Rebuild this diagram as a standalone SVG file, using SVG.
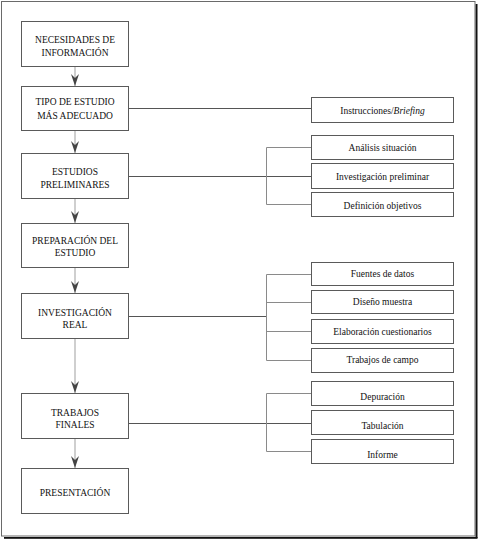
<svg xmlns="http://www.w3.org/2000/svg" width="478" height="539" viewBox="0 0 478 539">
<style>
.box{fill:#fff;stroke:#5a5a5a;stroke-width:1}
.t{font-family:"Liberation Serif","DejaVu Serif","Times New Roman",serif;font-size:9.5px;fill:#111;text-anchor:middle}
.flow{stroke:#cfcfcf;stroke-width:2;fill:none}
.conn{stroke:#555;stroke-width:1;fill:none}
.br{stroke:#8a8a8a;stroke-width:1;fill:none}
</style>
<defs>
<marker id="ah" viewBox="0 0 12 8" refX="12" refY="4" markerWidth="12" markerHeight="8" markerUnits="userSpaceOnUse" orient="auto">
<path d="M0,0 L12,4 L0,8 L4,4 Z" fill="#444"/>
</marker>
</defs>
<rect x="0" y="0" width="478" height="539" fill="#fff"/>
<rect x="475.5" y="4" width="2" height="534" fill="#111"/>
<rect x="4" y="537" width="473.5" height="1.8" fill="#111"/>
<rect x="1.5" y="1.5" width="473.5" height="534.5" fill="none" stroke="#6a6a6a" stroke-width="1"/>

<g id="connectors">
<path class="flow" d="M75,67 V86" marker-end="url(#ah)"/>
<path class="flow" d="M75,131 V153" marker-end="url(#ah)"/>
<path class="flow" d="M75,199 V223" marker-end="url(#ah)"/>
<path class="flow" d="M75,268 V293" marker-end="url(#ah)"/>
<path class="flow" d="M75,339 V393" marker-end="url(#ah)"/>
<path class="flow" d="M75,439 V468" marker-end="url(#ah)"/>
<path class="conn" d="M129,108.5 H311"/>
<path class="conn" d="M129,176.5 H311"/>
<path class="br" d="M311,147.5 H266.5 V204.5 H311"/>
<path class="conn" d="M129,316.5 H266.5"/>
<path class="br" d="M311,274.5 H266.5 V360.5 H311 M266.5,302.5 H311 M266.5,331.5 H311"/>
<path class="conn" d="M129,423.5 H311"/>
<path class="br" d="M311,393.5 H266.5 V451.5 H311"/>
</g>

<g id="n1"><rect class="box" x="21.5" y="21.5" width="107" height="45"/><text class="t" x="75" y="42.5">NECESIDADES DE</text><text class="t" x="75" y="55.5">INFORMACIÓN</text></g>
<g id="n2"><rect class="box" x="21.5" y="86.5" width="107" height="44"/><text class="t" x="75" y="105">TIPO DE ESTUDIO</text><text class="t" x="75" y="118.5">MÁS ADECUADO</text></g>
<g id="n3"><rect class="box" x="21.5" y="153.5" width="107" height="45"/><text class="t" x="75" y="175">ESTUDIOS</text><text class="t" x="75" y="187.5">PRELIMINARES</text></g>
<g id="n4"><rect class="box" x="21.5" y="223.5" width="107" height="44"/><text class="t" x="75" y="244">PREPARACIÓN DEL</text><text class="t" x="75" y="256">ESTUDIO</text></g>
<g id="n5"><rect class="box" x="21.5" y="293.5" width="107" height="45"/><text class="t" x="75" y="315.5">INVESTIGACIÓN</text><text class="t" x="75" y="327.5">REAL</text></g>
<g id="n6"><rect class="box" x="21.5" y="393.5" width="107" height="45"/><text class="t" x="75" y="415.5">TRABAJOS</text><text class="t" x="75" y="427.5">FINALES</text></g>
<g id="n7"><rect class="box" x="21.5" y="468.5" width="107" height="45"/><text class="t" x="75" y="496">PRESENTACIÓN</text></g>

<g id="r1"><rect class="box" x="311.5" y="97.5" width="142" height="25"/><text class="t" x="382.5" y="114">Instrucciones/<tspan font-style="italic">Briefing</tspan></text></g>
<g id="r2"><rect class="box" x="311.5" y="135.5" width="142" height="24"/><text class="t" x="382.5" y="151">Análisis situación</text></g>
<g id="r3"><rect class="box" x="311.5" y="163.5" width="142" height="25"/><text class="t" x="382.5" y="180">Investigación preliminar</text></g>
<g id="r4"><rect class="box" x="311.5" y="192.5" width="142" height="24"/><text class="t" x="382.5" y="209">Definición objetivos</text></g>
<g id="r5"><rect class="box" x="311.5" y="262.5" width="142" height="23"/><text class="t" x="382.5" y="277">Fuentes de datos</text></g>
<g id="r6"><rect class="box" x="311.5" y="290.5" width="142" height="23"/><text class="t" x="382.5" y="305">Diseño muestra</text></g>
<g id="r7"><rect class="box" x="311.5" y="319.5" width="142" height="24"/><text class="t" x="382.5" y="334.5">Elaboración cuestionarios</text></g>
<g id="r8"><rect class="box" x="311.5" y="348.5" width="142" height="24"/><text class="t" x="382.5" y="363">Trabajos de campo</text></g>
<g id="r9"><rect class="box" x="311.5" y="381.5" width="142" height="24"/><text class="t" x="382.5" y="400">Depuración</text></g>
<g id="r10"><rect class="box" x="311.5" y="410.5" width="142" height="24"/><text class="t" x="382.5" y="429">Tabulación</text></g>
<g id="r11"><rect class="box" x="311.5" y="439.5" width="142" height="24"/><text class="t" x="382.5" y="458">Informe</text></g>
</svg>
